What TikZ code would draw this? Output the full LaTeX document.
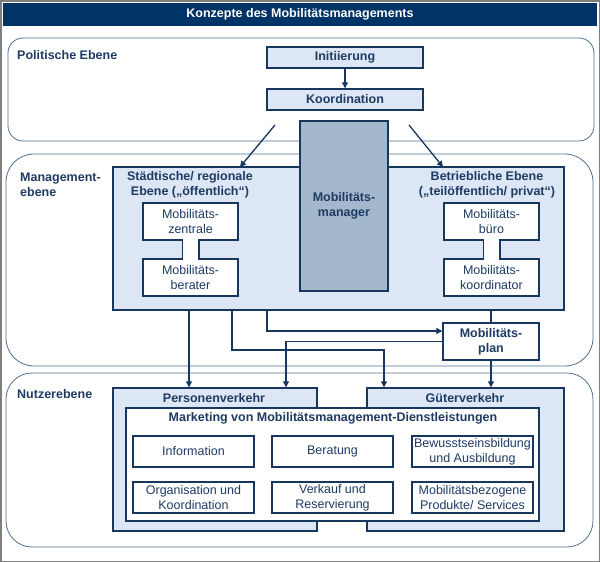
\documentclass[tikz,border=0pt]{standalone}
\usepackage{fontspec}
\setmainfont{Liberation Sans}
\usetikzlibrary{arrows.meta}
\definecolor{navy}{HTML}{003366}
\definecolor{dblue}{HTML}{17375E}
\definecolor{lfill}{HTML}{DCE6F4}
\definecolor{mfill}{HTML}{A3B8CC}
\definecolor{rline}{HTML}{4F6F92}
\definecolor{txt}{HTML}{1F3B63}
\definecolor{frame}{HTML}{7F7F7F}
\newcommand\myfs{\fontsize{12.5}{15}\selectfont}
\tikzset{
  layer/.style={draw=rline, line width=0.8pt, inner sep=0pt},
  lbl/.style={inner sep=0pt, font=\myfs\bfseries, text=txt, align=left},
  hbox/.style={draw=dblue, line width=1.4pt, fill=lfill, inner sep=0pt, align=center, font=\myfs\bfseries, text=txt},
  wbox/.style={draw=dblue, line width=1.4pt, fill=white, inner sep=0pt, align=center, font=\myfs, text=txt},
  conn/.style={draw=dblue, line width=1.3pt},
  arr/.style={conn, -{Triangle[length=6pt,width=6pt]}},
}
\begin{document}
\begin{tikzpicture}[x=1pt,y=-1pt]
\useasboundingbox (0,0) rectangle (600,562);
\draw[frame, line width=1.5pt] (0.75,0.75) rectangle (599.25,561.25);
\node[fill=navy, minimum width=594pt, minimum height=23pt, inner sep=0pt, text=white, font=\myfs\bfseries] (title) at (300,14.5) {Konzepte des Mobilitätsmanagements};
% layers
\node[layer, rounded corners=15pt, minimum width=586pt, minimum height=103pt] (pol) at (301,89.5) {};
\node[layer, rounded corners=28pt, minimum width=587pt, minimum height=212pt] (man) at (299.5,260) {};
\node[layer, rounded corners=26pt, minimum width=587pt, minimum height=174pt] (nut) at (299.5,460) {};
\node[lbl, anchor=west] (polL) at (17,55) {Politische Ebene};
\node[lbl, anchor=west] (manL) at (20,185) {Management-\\ebene};
\node[lbl, anchor=west] (nutL) at (17,394) {Nutzerebene};
% political level
\node[hbox, minimum width=156pt, minimum height=21pt] (ini) at (345,57.5) {Initiierung};
\node[hbox, minimum width=156pt, minimum height=21pt] (koo) at (345,99.5) {Koordination};
\draw[arr] (ini.south) -- (koo.north);
% management level
\node[hbox, minimum width=451pt, minimum height=143pt] (big) at (338.5,238.5) {};
\node[lbl, align=center] (staedt) at (190,185) {Städtische/ regionale\\Ebene („öffentlich“)};
\node[lbl, align=center] (betr) at (487,185) {Betriebliche Ebene\\(„teilöffentlich/ privat“)};
\node[hbox, fill=mfill, minimum width=88pt, minimum height=170pt] (mgr) at (344,206) {Mobilitäts-\\manager};
\node[wbox, minimum width=95pt, minimum height=37pt] (zen) at (190.5,221.5) {Mobilitäts-\\zentrale};
\node[wbox, minimum width=95pt, minimum height=37pt] (ber) at (190.5,277.5) {Mobilitäts-\\berater};
\node[wbox, minimum width=95pt, minimum height=37pt] (bue) at (491.5,221.5) {Mobilitäts-\\büro};
\node[wbox, minimum width=95pt, minimum height=37pt] (kor) at (491.5,277.5) {Mobilitäts-\\koordinator};
% I-beam strips
\fill[white] (182.8,239) rectangle (198.2,259.8);
\draw[conn, line width=1.4pt] (182.2,240) -- (182.2,259) (198.8,240) -- (198.8,259);
\fill[white] (483.8,239) rectangle (499.2,259.8);
\draw[conn, line width=1.4pt] (483.2,240) -- (483.2,259) (499.8,240) -- (499.8,259);
% arrows from Koordination
\coordinate (la) at (275,125);
\coordinate (lb) at (240,167);
\coordinate (ra) at (409,125);
\coordinate (rb) at (443,167);
\draw[arr] (la) -- (lb);
\draw[arr] (ra) -- (rb);
% plan
\node[wbox, font=\myfs\bfseries, minimum width=96pt, minimum height=37pt] (plan) at (491,341.5) {Mobilitäts-\\plan};
% user level
\node[hbox, minimum width=204pt, minimum height=143pt] (pv) at (215,459.5) {};
\node[hbox, minimum width=197pt, minimum height=143pt] (gv) at (465.5,459.5) {};
\node[lbl, anchor=center] (pvL) at (214,398) {Personenverkehr};
\node[lbl, anchor=center] (gvL) at (465,398) {Güterverkehr};
\node[wbox, minimum width=413pt, minimum height=113pt] (mkt) at (332.5,464.5) {};
\node[lbl, anchor=center] (mktL) at (333,418) {Marketing von Mobilitätsmanagement-Dienstleistungen};
\tikzset{sbox/.style={wbox, minimum width=121pt, minimum height=31pt}}
\node[sbox] (s1) at (193.5,451.5) {Information};
\node[sbox] (s2) at (332.5,451.5) {Beratung};
\node[sbox] (s3) at (472.5,451.5) {Bewusstseinsbildung\\und Ausbildung};
\node[sbox] (s4) at (193.5,497.5) {Organisation und\\Koordination};
\node[sbox] (s5) at (332.5,497.5) {Verkauf und\\Reservierung};
\node[sbox] (s6) at (472.5,497.5) {Mobilitätsbezogene\\Produkte/ Services};
% connectors
\coordinate (xA) at (267,0);
\coordinate (yA) at (0,331);
\coordinate (xB) at (286,0);
\coordinate (xC) at (232,0);
\coordinate (yC) at (0,350);
\coordinate (xG) at (384,0);
\coordinate (xD) at (189,0);
\draw[arr] (big.south -| xD) -- (pv.north -| xD);
\draw[arr] (big.south -| xA) |- (plan.west |- yA);
\draw[arr] (plan.west) -| (pv.north -| xB);
\draw[arr] (big.south -| xC) |- (yC -| xG) -- (gv.north -| xG);
\draw[conn] (big.south -| plan.north) -- (plan.north);
\draw[arr] (plan.south) -- (gv.north -| plan.south);
\end{tikzpicture}
\end{document}
